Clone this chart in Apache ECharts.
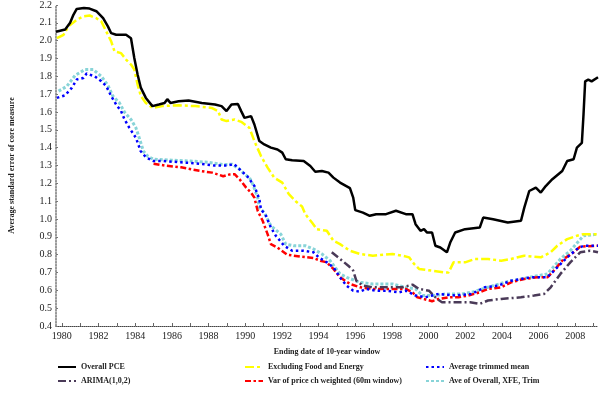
<!DOCTYPE html>
<html><head><meta charset="utf-8">
<script src="https://cdn.jsdelivr.net/npm/echarts@6/dist/echarts.min.js"></script>
<style>html,body{margin:0;padding:0;background:#fff}#c{width:600px;height:394px}</style>
</head><body><div id="c"></div>
<script>
// ---- data (x = ending date of 10-year window, y = average standard error) ----
const xLabelYears = [1980,1982,1984,1986,1988,1990,1992,1994,1996,1998,2000,2002,2004,2006,2008];
const xTickYears = [1980,1981,1982,1983,1984,1985,1986,1987,1988,1989,1990,1991,1992,1993,1994,1995,1996,1997,1998,1999,2000,2001,2002,2003,2004,2005,2006,2007,2008,2009];

const overallPCE = [[1979.68,2.05],[1980.18,2.063],[1980.45,2.10],[1980.63,2.145],[1980.81,2.178],[1981.2,2.183],[1981.51,2.18],[1981.88,2.165],[1982.25,2.126],[1982.51,2.08],[1982.69,2.042],[1982.96,2.033],[1983.5,2.033],[1983.77,2.014],[1983.95,1.903],[1984.13,1.81],[1984.31,1.735],[1984.58,1.679],[1984.94,1.633],[1985.29,1.642],[1985.6,1.65],[1985.75,1.672],[1985.92,1.651],[1986.37,1.66],[1986.91,1.664],[1987.63,1.651],[1988.35,1.642],[1988.71,1.633],[1988.98,1.605],[1989.25,1.642],[1989.6,1.645],[1989.78,1.605],[1989.96,1.567],[1990.05,1.558],[1990.32,1.577],[1990.5,1.53],[1990.77,1.437],[1991.04,1.418],[1991.4,1.40],[1991.76,1.39],[1992.02,1.372],[1992.21,1.335],[1992.56,1.329],[1993.19,1.325],[1993.55,1.297],[1993.82,1.265],[1994.18,1.269],[1994.54,1.26],[1994.81,1.232],[1995.17,1.204],[1995.71,1.173],[1995.89,1.12],[1996.0,1.05],[1996.42,1.036],[1996.79,1.018],[1997.14,1.027],[1997.68,1.027],[1998.22,1.046],[1998.76,1.027],[1999.12,1.027],[1999.29,0.971],[1999.56,0.934],[1999.75,0.943],[1999.92,0.924],[2000.19,0.924],[2000.37,0.85],[2000.64,0.84],[2000.73,0.85],[2001.0,0.813],[2001.18,0.868],[2001.45,0.924],[2001.99,0.943],[2002.79,0.952],[2002.98,1.008],[2003.52,0.999],[2004.32,0.98],[2005.04,0.99],[2005.22,1.064],[2005.49,1.157],[2005.85,1.176],[2006.12,1.148],[2006.39,1.185],[2006.75,1.223],[2007.29,1.269],[2007.56,1.325],[2007.91,1.335],[2008.09,1.40],[2008.36,1.427],[2008.45,1.586],[2008.54,1.772],[2008.71,1.782],[2008.89,1.772],[2009.24,1.795]];

const exFoodEnergy = [[1979.73,2.014],[1980.09,2.033],[1980.36,2.08],[1980.81,2.117],[1981.17,2.136],[1981.52,2.141],[1981.88,2.126],[1982.15,2.108],[1982.42,2.052],[1982.69,1.996],[1982.87,1.94],[1983.23,1.93],[1983.5,1.894],[1983.77,1.866],[1983.95,1.838],[1984.13,1.754],[1984.31,1.689],[1984.58,1.651],[1984.94,1.623],[1985.48,1.633],[1986.37,1.638],[1987.27,1.633],[1988.17,1.623],[1988.52,1.605],[1988.71,1.558],[1988.98,1.549],[1989.42,1.558],[1989.78,1.545],[1990.23,1.511],[1990.5,1.437],[1990.86,1.353],[1991.22,1.288],[1991.58,1.232],[1992.02,1.204],[1992.38,1.139],[1992.75,1.10],[1993.1,1.07],[1993.28,1.027],[1993.64,0.98],[1993.91,0.943],[1994.45,0.934],[1994.81,0.878],[1995.17,0.859],[1995.71,0.822],[1996.25,0.804],[1996.96,0.794],[1998.04,0.804],[1998.57,0.794],[1998.94,0.785],[1999.21,0.748],[1999.48,0.72],[2000.19,0.71],[2000.91,0.70],[2001.09,0.70],[2001.36,0.757],[2001.99,0.757],[2002.52,0.776],[2003.24,0.776],[2003.96,0.766],[2004.5,0.776],[2005.22,0.794],[2006.12,0.785],[2006.66,0.813],[2007.02,0.85],[2007.56,0.887],[2008.09,0.906],[2008.45,0.915],[2009.24,0.915]];

const trimmedMean = [[1979.73,1.679],[1980.18,1.694],[1980.54,1.735],[1980.81,1.782],[1981.17,1.791],[1981.35,1.816],[1981.79,1.80],[1982.15,1.772],[1982.42,1.745],[1982.69,1.689],[1982.96,1.642],[1983.23,1.605],[1983.41,1.56],[1983.68,1.511],[1984.04,1.455],[1984.3,1.38],[1984.6,1.345],[1985.0,1.325],[1985.5,1.325],[1986.5,1.318],[1987.5,1.31],[1988.3,1.30],[1989.0,1.30],[1989.4,1.307],[1989.69,1.279],[1990.14,1.236],[1990.5,1.185],[1990.77,1.111],[1990.86,1.055],[1991.13,1.018],[1991.4,0.952],[1991.67,0.906],[1992.12,0.85],[1992.56,0.822],[1993.19,0.822],[1993.73,0.813],[1994.0,0.785],[1994.45,0.757],[1994.81,0.729],[1995.17,0.673],[1995.53,0.626],[1995.89,0.598],[1996.25,0.593],[1996.6,0.608],[1997.14,0.598],[1997.68,0.598],[1998.4,0.589],[1998.76,0.598],[1999.29,0.571],[1999.83,0.561],[2000.55,0.58],[2001.45,0.571],[2002.35,0.58],[2003.06,0.617],[2003.79,0.626],[2004.5,0.654],[2005.58,0.673],[2006.48,0.673],[2007.02,0.729],[2007.56,0.785],[2008.09,0.831],[2008.45,0.85],[2009.24,0.85]];

const arima = [[1994.72,0.813],[1995.17,0.776],[1995.62,0.738],[1995.89,0.71],[1996.06,0.654],[1996.42,0.626],[1996.96,0.617],[1997.86,0.617],[1998.57,0.617],[1999.12,0.632],[1999.48,0.608],[2000.02,0.598],[2000.19,0.58],[2000.46,0.552],[2000.73,0.533],[2001.63,0.533],[2002.26,0.533],[2002.79,0.524],[2003.24,0.543],[2003.96,0.552],[2005.04,0.561],[2005.76,0.571],[2006.3,0.58],[2006.66,0.617],[2007.19,0.692],[2007.73,0.757],[2008.27,0.813],[2008.81,0.822],[2009.24,0.813]];

const varWeighted = [[1985.0,1.31],[1985.6,1.30],[1986.5,1.29],[1987.5,1.27],[1988.2,1.26],[1988.8,1.24],[1989.15,1.25],[1989.42,1.251],[1989.69,1.223],[1990.05,1.176],[1990.32,1.148],[1990.5,1.12],[1990.59,1.111],[1990.68,1.046],[1990.95,0.99],[1991.22,0.915],[1991.4,0.859],[1991.76,0.84],[1992.29,0.80],[1993.02,0.789],[1993.73,0.781],[1994.09,0.766],[1994.45,0.757],[1994.81,0.72],[1995.17,0.673],[1995.71,0.636],[1996.25,0.617],[1996.96,0.608],[1997.86,0.608],[1998.76,0.608],[1999.12,0.589],[1999.39,0.561],[2000.19,0.539],[2000.55,0.552],[2001.09,0.561],[2001.63,0.561],[2002.17,0.571],[2002.79,0.589],[2003.24,0.608],[2003.96,0.617],[2004.5,0.645],[2005.22,0.664],[2005.94,0.673],[2006.48,0.673],[2006.83,0.71],[2007.37,0.776],[2007.91,0.813],[2008.27,0.845],[2009.24,0.85]];

const aveOverall = [[1979.82,1.717],[1980.27,1.744],[1980.72,1.805],[1981.25,1.838],[1981.71,1.838],[1982.15,1.80],[1982.51,1.75],[1982.78,1.689],[1983.14,1.651],[1983.41,1.60],[1983.77,1.558],[1984.04,1.511],[1984.22,1.455],[1984.45,1.38],[1984.7,1.35],[1985.0,1.335],[1986.0,1.33],[1987.0,1.325],[1988.0,1.318],[1988.8,1.305],[1989.3,1.307],[1989.69,1.279],[1989.96,1.251],[1990.23,1.232],[1990.41,1.195],[1990.68,1.12],[1990.77,1.064],[1991.04,1.036],[1991.4,0.962],[1991.94,0.915],[1992.21,0.859],[1992.65,0.85],[1993.28,0.85],[1993.73,0.831],[1994.18,0.804],[1994.63,0.766],[1995.17,0.692],[1995.53,0.673],[1996.25,0.645],[1996.96,0.636],[1998.04,0.636],[1998.76,0.617],[1999.29,0.608],[1999.66,0.571],[2000.37,0.571],[2000.91,0.58],[2001.81,0.58],[2002.35,0.589],[2003.24,0.617],[2004.14,0.645],[2005.04,0.664],[2006.48,0.692],[2007.19,0.776],[2007.73,0.822],[2008.45,0.906],[2009.24,0.915]];

// ---- chart ----
const serif = '"Liberation Serif","Times New Roman",serif';
const chart = echarts.init(document.getElementById('c'));
function mk(name, data, color, type, width, z) {
  return { name, type: 'line', data, symbol: 'none', z,
    lineStyle: { color, type, width, cap: 'butt' }, itemStyle: { color } };
}
const legendText = { fontFamily: serif, fontSize: 8, fontWeight: 'bold', color: '#222' };
function leg(left, names) {
  return { orient: 'vertical', left, top: 363, itemWidth: 18, itemHeight: 8, itemGap: 6,
    padding: 0, textStyle: legendText, data: names, selectedMode: false,
    itemStyle: { opacity: 0 } };
}
chart.setOption({
  animation: false,
  backgroundColor: '#fff',
  grid: { left: 49, right: 2, top: 3.5, bottom: 68 },
  legend: [
    leg(57, ['Overall PCE', 'ARIMA(1,0,2)']),
    leg(244, ['Excluding Food and Energy', 'Var of price ch weighted (60m window)']),
    leg(425, ['Average trimmed mean', 'Ave of Overall, XFE, Trim'])
  ],
  xAxis: {
    type: 'value', min: 1979.68, max: 2009.24,
    name: 'Ending date of 10-year window', nameLocation: 'middle', nameGap: 22,
    nameTextStyle: { fontFamily: serif, fontSize: 8, fontWeight: 'bold', color: '#222' },
    axisLine: { show: true, lineStyle: { color: '#444', type: 'dotted', width: 1 } },
    axisTick: { show: true, inside: true, length: 3, customValues: xTickYears, lineStyle: { color: '#666' } },
    axisLabel: { customValues: xLabelYears, fontFamily: serif, fontSize: 10, color: '#222', margin: 5,
      formatter: v => String(Math.round(v)) },
    splitLine: { show: false }
  },
  yAxis: {
    type: 'value', min: 0.4, max: 2.2, interval: 0.1,
    name: 'Average standard error of core measure', nameLocation: 'middle', nameGap: 40, nameRotate: 90,
    nameTextStyle: { fontFamily: serif, fontSize: 8, fontWeight: 'bold', color: '#222' },
    axisLine: { show: true, lineStyle: { color: '#777', type: 'dotted', width: 1.5 } },
    axisTick: { show: true, inside: true, length: 2, lineStyle: { color: '#777' } },
    axisLabel: { fontFamily: serif, fontSize: 10, color: '#222', margin: 4, formatter: v => v.toFixed(1) },
    splitLine: { show: false }
  },
  series: [
    mk('Overall PCE', overallPCE, '#000000', 'solid', 2.5, 6),
    mk('ARIMA(1,0,2)', arima, '#4a3a58', [8, 3, 2, 3], 2.5, 3),
    mk('Excluding Food and Energy', exFoodEnergy, '#ffff00', [9, 3, 3, 3], 2.5, 5),
    mk('Var of price ch weighted (60m window)', varWeighted, '#ff0000', [6, 2.5, 2.5, 2.5], 2.5, 2),
    mk('Average trimmed mean', trimmedMean, '#0000ff', [2.5, 3], 2.5, 4),
    mk('Ave of Overall, XFE, Trim', aveOverall, '#88d4d8', [3, 2], 3, 1)
  ]
});
</script></body></html>
